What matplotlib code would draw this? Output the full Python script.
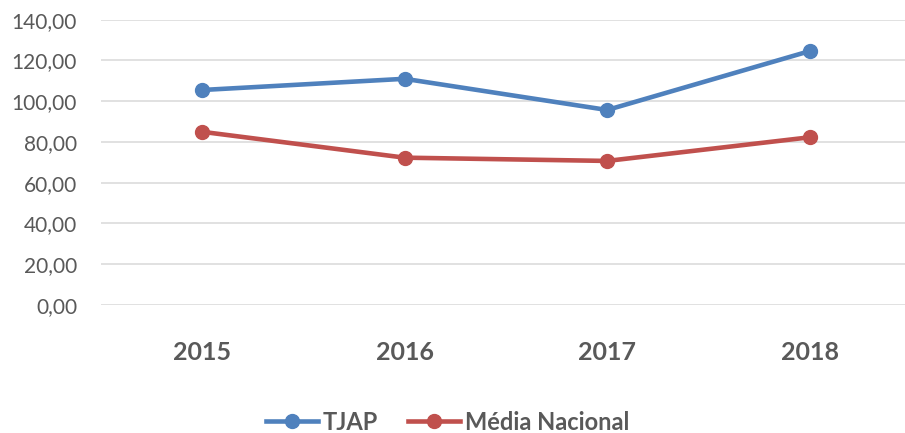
import matplotlib
matplotlib.use("Agg")
import matplotlib.pyplot as plt
from matplotlib.ticker import FuncFormatter

years = ["2015", "2016", "2017", "2018"]
tjap = [105.5, 111.0, 95.7, 124.6]
media_nacional = [85.0, 72.3, 70.7, 82.3]
y_ticks = [0, 20, 40, 60, 80, 100, 120, 140]

BLUE = "#4F81BD"
RED = "#C0504D"
TEXT = "#595959"

plt.rcParams["font.family"] = ["Lato", "DejaVu Sans"]

fig = plt.figure(figsize=(9.05, 4.33), dpi=100)
ax = fig.add_axes([0.1113, 0.2956, 0.8887, 0.6589])

x = range(len(years))
ax.plot(x, tjap, color=BLUE, lw=3.3, marker="o", ms=10, label="TJAP", zorder=3)
ax.plot(x, media_nacional, color=RED, lw=3.3, marker="o", ms=10,
        label="Média Nacional", zorder=3)

ax.set_xlim(-0.5, 3.47)
ax.set_ylim(0, 140)
ax.set_yticks(y_ticks)
ax.yaxis.set_major_formatter(FuncFormatter(lambda v, p: f"{v:.2f}".replace(".", ",")))
ax.set_xticks(list(x))
ax.set_xticklabels(years, fontweight="bold", fontsize=18)

ax.grid(axis="y", color="#D9D9D9", lw=1.1)
ax.set_axisbelow(True)
for s in ax.spines.values():
    s.set_visible(False)
ax.tick_params(axis="y", length=0, pad=17, labelsize=15, labelcolor=TEXT)
ax.tick_params(axis="x", length=0, pad=26, labelcolor=TEXT)

leg = fig.legend(loc="center", bbox_to_anchor=(0.4945, 0.025), ncol=2, frameon=False,
                 prop={"weight": "bold", "size": 17}, handlelength=2.2,
                 handletextpad=0.2, columnspacing=1.3)
for t in leg.get_texts():
    t.set_color(TEXT)

fig.savefig("out.png", dpi=100)
